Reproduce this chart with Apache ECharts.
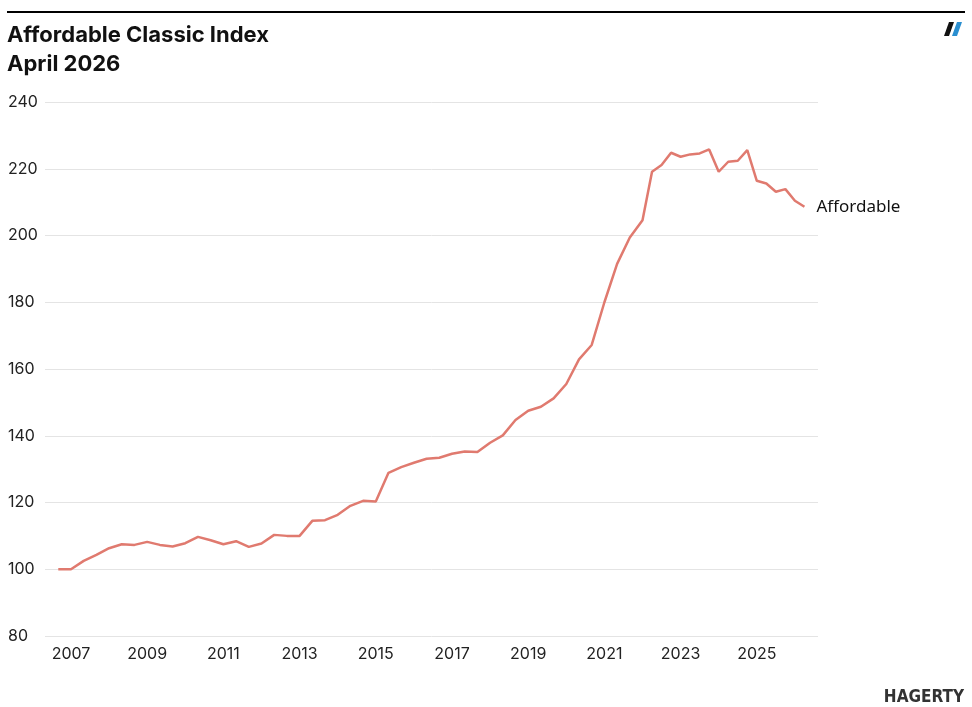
<!DOCTYPE html>
<html>
<head>
<meta charset="utf-8">
<script src="https://cdn.jsdelivr.net/npm/echarts@6/dist/echarts.min.js"></script>
<style>
html,body{margin:0;padding:0;background:#fff;}
#chart{width:972px;height:707px;}
</style>
</head>
<body>
<div id="chart"></div>
<script>
// Sample dates (every 4 months to Sep 2021, then quarterly)
const dates = [
  "2006-09","2007-01","2007-05","2007-09","2008-01","2008-05","2008-09",
  "2009-01","2009-05","2009-09","2010-01","2010-05","2010-09",
  "2011-01","2011-05","2011-09","2012-01","2012-05","2012-09",
  "2013-01","2013-05","2013-09","2014-01","2014-05","2014-09",
  "2015-01","2015-05","2015-09","2016-01","2016-05","2016-09",
  "2017-01","2017-05","2017-09","2018-01","2018-05","2018-09",
  "2019-01","2019-05","2019-09","2020-01","2020-05","2020-09",
  "2021-01","2021-05","2021-09",
  "2022-01","2022-04","2022-07","2022-10",
  "2023-01","2023-04","2023-07","2023-10",
  "2024-01","2024-04","2024-07","2024-10",
  "2025-01","2025-04","2025-07","2025-10",
  "2026-01","2026-04"
];
const affordable = [
  100,100,102.5,104.3,106.3,107.5,107.3,
  108.2,107.3,106.8,107.8,109.7,108.7,
  107.5,108.4,106.7,107.7,110.3,110.0,
  110.0,114.5,114.7,116.3,119.0,120.5,
  120.3,128.9,130.6,131.9,133.1,133.4,
  134.6,135.3,135.1,137.9,140.1,144.7,
  147.5,148.7,151.2,155.5,162.9,167.2,
  180.0,191.5,199.4,
  204.6,219.1,221.1,224.8,
  223.6,224.3,224.6,225.8,
  219.1,222.1,222.4,225.6,
  216.4,215.6,213.1,213.9,
  210.4,208.6
];
const seriesName = "Affordable";
const yearTicks = [2007,2009,2011,2013,2015,2017,2019,2021,2023,2025];
const titleText = "Affordable Classic Index\nApril 2026";

function toYear(s){
  const [y,m] = s.split("-").map(Number);
  return y + (m-1)/12;
}
const points = dates.map((d,i)=>[toYear(d), affordable[i]]);

const chart = echarts.init(document.getElementById('chart'), null, {renderer:'canvas'});
chart.setOption({
  animation:false,
  backgroundColor:'#fff',
  title:{
    text:titleText, left:2, top:16,
    textStyle:{fontFamily:'Inter', fontSize:22, fontWeight:'bold', color:'#111', lineHeight:29}
  },
  grid:{left:45, right:154, top:102, bottom:71, containLabel:false},
  xAxis:{
    type:'value', min:2006.318, max:2026.606,
    axisLine:{show:false}, axisTick:{show:false}, splitLine:{show:false},
    axisLabel:{
      customValues:yearTicks, formatter:v=>String(Math.round(v)),
      fontFamily:'Inter', fontSize:16, color:'#222', margin:10
    }
  },
  yAxis:{
    type:'value', min:80, max:240, interval:20,
    axisLine:{show:false}, axisTick:{show:false},
    splitLine:{lineStyle:{color:'#e4e4e4', width:1}},
    axisLabel:{fontFamily:'Inter', fontSize:16, color:'#222', align:'left', margin:37}
  },
  series:[{
    name:seriesName, type:'line', data:points, showSymbol:false,
    lineStyle:{color:'#e07a6f', width:2.5},
    itemStyle:{color:'#e07a6f'},
    endLabel:{show:true, formatter:seriesName, fontFamily:'Noto Sans', fontSize:17, color:'#111', distance:12}
  }],
  graphic:[
    {type:'line', shape:{x1:7,y1:12,x2:965,y2:12}, style:{stroke:'#000', lineWidth:2}},
    {type:'polygon', shape:{points:[[949,22],[954,22],[949,36],[944,36]]}, style:{fill:'#111'}},
    {type:'polygon', shape:{points:[[957,22],[962,22],[957,36],[952,36]]}, style:{fill:'#2a8fd0'}},
    {type:'text', right:8, bottom:1, style:{text:'HAGERTY', font:'900 17px "DejaVu Sans Condensed"', fill:'#333', letterSpacing:-1}}
  ]
});
</script>
</body>
</html>
